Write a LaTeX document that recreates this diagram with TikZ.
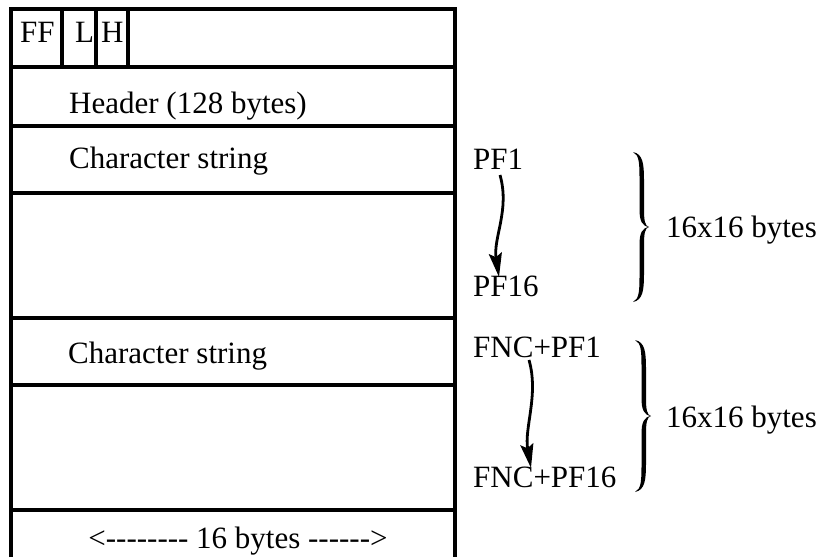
\documentclass[tikz,border=0pt]{standalone}
\usepackage{fontspec}
\setmainfont{Liberation Serif}[Ligatures=TeXOff]
\usetikzlibrary{arrows.meta}
% filled typeset-like right brace: #1 base x, #2 top y, #3 bottom y, #4 tip x
\newcommand{\bracefill}[4]{%
  \pgfmathsetmacro\bA{#1}\pgfmathsetmacro\bT{#2}\pgfmathsetmacro\bB{#3}%
  \pgfmathsetmacro\bP{#4}\pgfmathsetmacro\bH{#3-#2}\pgfmathsetmacro\bM{(#2+#3)/2}%
  \pgfmathsetmacro\bO{#1+11}\pgfmathsetmacro\bI{#1+6.5}%
  \pgfmathsetmacro\bTa{\bT+0.19*\bH}\pgfmathsetmacro\bTb{\bT+0.08*\bH}%
  \pgfmathsetmacro\bBa{\bB-0.19*\bH}\pgfmathsetmacro\bBb{\bB-0.08*\bH}%
  \pgfmathsetmacro\bMa{\bM-0.12*\bH}\pgfmathsetmacro\bMb{\bM-0.04*\bH}%
  \pgfmathsetmacro\bMc{\bM+0.12*\bH}\pgfmathsetmacro\bMd{\bM+0.04*\bH}%
  \fill (\bA,\bT) .. controls (\bO-1,\bT+2) and (\bO,\bTb) .. (\bO,\bTa)
     -- (\bO,\bMa) .. controls (\bO,\bMb) and (\bP-4,\bM-1) .. (\bP,\bM)
     .. controls (\bP-4,\bM+1) and (\bO,\bMd) .. (\bO,\bMc)
     -- (\bO,\bBa) .. controls (\bO,\bBb) and (\bO-1,\bB-2) .. (\bA,\bB)
     .. controls (\bI,\bB-3) and (\bI,\bBb) .. (\bI,\bBa)
     -- (\bI,\bMc) .. controls (\bI,\bMd) and (\bP-7,\bM+1) .. (\bP,\bM)
     .. controls (\bP-7,\bM-1) and (\bI,\bMb) .. (\bI,\bMa)
     -- (\bI,\bTa) .. controls (\bI,\bTb) and (\bI,\bT+3) .. (\bA,\bT) -- cycle;}
\begin{document}
\begin{tikzpicture}[x=1pt,y=-1pt,
  frame/.style={line width=3.3pt},
  lbl/.style={inner sep=0pt, anchor=base west, font=\fontsize{31}{37}\selectfont},
  arr/.style={line width=2.8pt, -{Stealth[length=24pt,width=13pt,inset=4pt]}}]
\useasboundingbox (0,0) rectangle (822,557);
% frame
\draw[frame] (11,557) -- (11,9) -- (455,9) -- (455,557);
\foreach \y in {67,126,193,318,385,510} \draw[frame] (11,\y) -- (455,\y);
\draw[frame] (62,9) -- (62,67);
\draw[frame] (96,9) -- (96,67);
\draw[frame] (128,9) -- (128,67);
% texts in the box
\node[lbl] (ff) at (20,42) {FF};
\node[lbl] (l) at (75,42) {L};
\node[lbl] (h) at (101,42) {H};
\node[lbl] (hdr) at (69,113) {Header (128 bytes)};
\node[lbl] (cs1) at (69,168) {Character string};
\node[lbl] (cs2) at (68,363) {Character string};
\node[lbl, anchor=base] (bytes) at (238,548) {<-------- 16 bytes ------>};
% right side labels
\node[lbl] (pf1) at (473,169) {PF1};
\node[lbl] (pf16) at (473,296) {PF16};
\node[lbl] (fpf1) at (473,357) {FNC+PF1};
\node[lbl] (fpf16) at (473,487) {FNC+PF16};
\node[lbl, anchor=base east] (sz1) at (817,237) {16x16 bytes};
\node[lbl, anchor=base east] (sz2) at (817,427) {16x16 bytes};
% arrows
\draw[arr] ([shift={(27,6)}]pf1.base west) .. controls (510,210) and (493,238) .. ([shift={(26,-19)}]pf16.base west);
\draw[arr] ([shift={(56,3)}]fpf1.base west) .. controls (539,395) and (524,428) .. ([shift={(58,-19)}]fpf16.base west);
% braces
\bracefill{633}{152}{302}{649}
\bracefill{635}{340}{492}{651}
\end{tikzpicture}
\end{document}
